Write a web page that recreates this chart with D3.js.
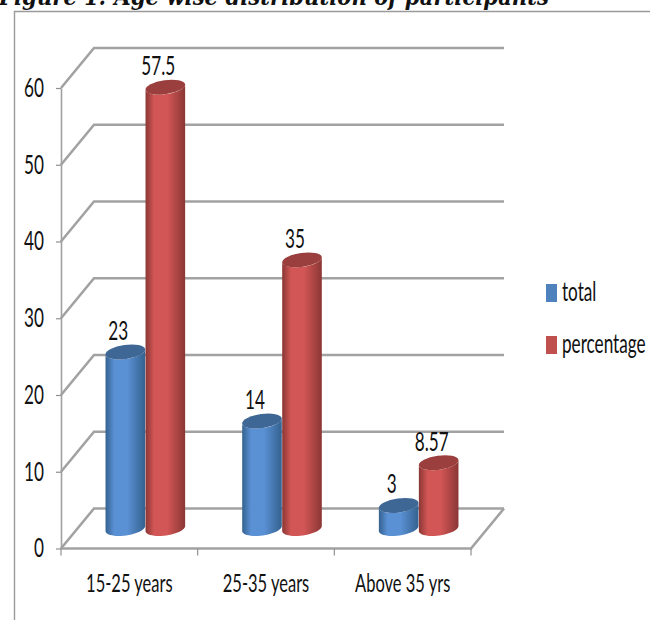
<!DOCTYPE html>
<html>
<head>
<meta charset="utf-8">
<script src="https://cdn.jsdelivr.net/npm/d3@7"></script>
<style>
  html, body { margin: 0; padding: 0; background: #fff; overflow: hidden; }
  svg { display: block; }
  text { font-family: Lato, "Liberation Sans", sans-serif; fill: #111; }
</style>
</head>
<body>
<svg id="chart" width="650" height="620"></svg>
<script>
const categories = ["15-25 years", "25-35 years", "Above 35 yrs"];
const seriesNames = ["total", "percentage"];
const totalValues = [23, 14, 3];
const percentageValues = [57.5, 35, 8.57];
const valueTicks = [0, 10, 20, 30, 40, 50, 60];
const titleText = "Figure 1: Age wise distribution of participants";

const series = [
  { name: seriesNames[0], values: totalValues, edge: "#34628f", mid: "#5a90d4", top: "#3e6795", key: "#4f81bd" },
  { name: seriesNames[1], values: percentageValues, edge: "#8a3735", mid: "#d25655", top: "#9a3f3d", key: "#c0504d" }
];

// Oblique projection of the 3D plot box
const depthX = 33, depthY = -40;
const plotLeft = 61, plotRight = 471;
const svg = d3.select("#chart");

const x = d3.scaleBand().domain(categories).range([plotLeft, plotRight]);
const xSeries = d3.scaleBand().domain(seriesNames).range([-40, 40]);
const y = d3.scaleLinear().domain([0, 60]).range([548.5, 88]);

// Page frame and the caption running off the top edge
svg.append("path")
  .attr("d", "M14.5,620V11.5H650")
  .attr("fill", "none").attr("stroke", "#9a9a9a").attr("stroke-width", 1.4);

svg.append("text")
  .attr("class", "caption")
  .attr("x", -1).attr("y", 5)
  .style("font-family", "'DejaVu Serif', serif")
  .style("font-weight", "bold").style("font-style", "italic")
  .style("font-size", "24px")
  .attr("textLength", 550).attr("lengthAdjust", "spacingAndGlyphs")
  .text(titleText);

// Wall gridlines: side wall diagonal followed by the back wall run
const grid = svg.append("g").attr("fill", "none").attr("stroke", "#a2a2a2").attr("stroke-width", 2.6);
grid.selectAll("path").data(valueTicks).join("path")
  .attr("d", v => `M${plotLeft},${y(v)}L${plotLeft + depthX},${y(v) + depthY}H${plotRight + depthX}`);

// Floor edges on the front and right
svg.append("path")
  .attr("d", `M${plotLeft},${y(0)}H${plotRight}L${plotRight + depthX},${y(0) + depthY}`)
  .attr("fill", "none").attr("stroke", "#a2a2a2").attr("stroke-width", 2.6);

// Value axis
const yAxis = svg.append("g")
  .attr("transform", `translate(${plotLeft},0)`)
  .call(d3.axisLeft(y).tickValues(valueTicks).tickSize(5).tickPadding(12).tickSizeOuter(0));
yAxis.select(".domain").attr("stroke", "#a0a0a0").attr("stroke-width", 1.6);
yAxis.selectAll("line").attr("stroke", "#909090").attr("stroke-width", 1.2);
yAxis.selectAll("text").style("font-family", null).style("font-size", "26px").attr("fill", "#111");

// Category axis: labels centred in each band, tick marks on the band edges
const xAxis = svg.append("g")
  .attr("transform", `translate(0,${y(0)})`)
  .call(d3.axisBottom(x).tickSize(0).tickPadding(26));
xAxis.select(".domain").remove();
xAxis.selectAll("text").style("font-family", null).style("font-size", "25px").attr("fill", "#111");
svg.append("g").selectAll("line")
  .data(categories.map(c => x(c)).concat(plotRight)).join("line")
  .attr("x1", d => d).attr("x2", d => d)
  .attr("y1", y(0)).attr("y2", y(0) + 7)
  .attr("stroke", "#909090").attr("stroke-width", 1.2);

// Horizontal shading across each cylinder
const defs = svg.append("defs");
series.forEach((s, i) => {
  const g = defs.append("linearGradient").attr("id", `body${i}`);
  [[0, s.edge], [0.22, s.mid], [0.55, s.mid], [1, s.edge]].forEach(([o, c]) =>
    g.append("stop").attr("offset", o).attr("stop-color", c));
});

// Cylinders stand halfway into the plot box, with tilted elliptical caps
const rx = 20, ry = 7, tiltDeg = -8;
const cosT = Math.cos(tiltDeg * Math.PI / 180), sinT = Math.sin(tiltDeg * Math.PI / 180);
const baseY = y(0) + depthY / 2;
const heightOf = v => y(0) - y(v);

const marks = series.flatMap((s, si) => s.values.map((v, ci) => ({
  si, v, top: s.top,
  cx: x(categories[ci]) + x.bandwidth() / 2 + depthX / 2 + xSeries(s.name) + xSeries.bandwidth() / 2 - 0.5,
  yTop: baseY - heightOf(v)
})));

// Point on a tilted ellipse around (cx, cy) at parameter a
const rim = (cx, cy, a) => [
  cx + rx * Math.cos(a) * cosT - ry * Math.sin(a) * sinT,
  cy + rx * Math.cos(a) * sinT + ry * Math.sin(a) * cosT
];
const rimAngles = d3.range(0, 25).map(i => i / 24 * Math.PI);
const outline = d3.line();

const bars = svg.append("g").selectAll("g").data(marks).join("g");
bars.append("path")
  .attr("fill", d => `url(#body${d.si})`)
  .attr("d", d => {
    const lower = rimAngles.map(a => rim(d.cx, baseY, a));
    const upper = rimAngles.map(a => rim(d.cx, d.yTop, a)).reverse();
    return outline(lower.concat(upper)) + "Z";
  });
bars.append("ellipse")
  .attr("rx", rx).attr("ry", ry).attr("fill", d => d.top)
  .attr("transform", d => `translate(${d.cx},${d.yTop}) rotate(${tiltDeg})`);

// Value labels above the caps
svg.append("g").selectAll("text").data(marks).join("text")
  .attr("x", d => d.cx - 7).attr("y", d => d.yTop - 12)
  .attr("text-anchor", "middle")
  .style("font-size", "26px")
  .text(d => d.v);

// Legend
const legend = svg.append("g").selectAll("g").data(series).join("g")
  .attr("transform", (d, i) => `translate(546,${284 + i * 52})`);
legend.append("rect").attr("width", 11).attr("height", 18).attr("fill", d => d.key);
legend.append("text").attr("x", 16).attr("y", 17).style("font-size", "26px").text(d => d.name);

// Condense the chart lettering horizontally about each label's anchor
const condense = 0.66;
svg.selectAll("text:not(.caption)").each(function () {
  const ax = +this.getAttribute("x") || 0;
  this.setAttribute("transform", `translate(${ax},0) scale(${condense},1) translate(${-ax},0)`);
});
</script>
</body>
</html>
